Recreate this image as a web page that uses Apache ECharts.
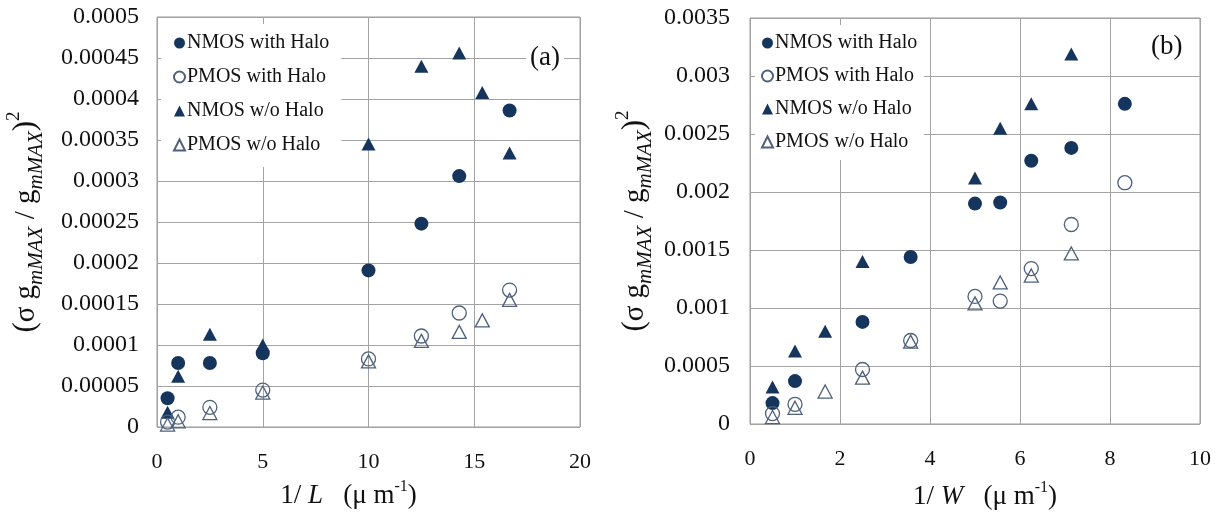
<!DOCTYPE html>
<html>
<head>
<meta charset="utf-8">
<script src="https://cdn.jsdelivr.net/npm/echarts@6/dist/echarts.min.js"></script>
<style>
  html, body { margin: 0; padding: 0; background: #fff; }
  #chart { width: 1222px; height: 517px; }
</style>
</head>
<body>
<div id="chart"></div>
<script>
// Panel (a): mismatch of g_mMAX versus 1/L
const xCircleA   = [0.5, 1, 2.5, 5, 10, 12.5, 14.29, 16.67];
const xTriA      = [0.5, 1, 2.5, 5, 10, 12.5, 14.29, 15.38, 16.67];
const nmosHaloA   = [0.000035, 0.000078, 0.000078, 0.00009, 0.000191, 0.000248, 0.000306, 0.000386];
const pmosHaloA   = [0.000006, 0.000012, 0.000024, 0.000045, 0.000083, 0.000111, 0.000139, 0.000167];
const nmosNoHaloA = [0.000018, 0.000062, 0.000113, 0.0001, 0.000345, 0.00044, 0.000456, 0.000408, 0.000334];
const pmosNoHaloA = [0.000003, 0.000007, 0.000017, 0.000042, 0.00008, 0.000105, 0.000116, 0.00013, 0.000155];

// Panel (b): mismatch of g_mMAX versus 1/W
const xCircleB    = [0.5, 1, 2.5, 3.57, 5, 5.56, 6.25, 7.14, 8.33];
const xNmosTriB   = [0.5, 1, 1.67, 2.5, 5, 5.56, 6.25, 7.14];
const xPmosTriB   = [0.5, 1, 1.67, 2.5, 3.57, 5, 5.56, 6.25, 7.14];
const nmosHaloB   = [0.00018, 0.00037, 0.00088, 0.00144, 0.0019, 0.00191, 0.00227, 0.00238, 0.00276];
const pmosHaloB   = [0.00009, 0.00017, 0.00047, 0.00072, 0.0011, 0.00106, 0.00134, 0.00172, 0.00208];
const nmosNoHaloB = [0.00032, 0.00063, 0.0008, 0.0014, 0.00212, 0.00255, 0.00276, 0.00319];
const pmosNoHaloB = [0.00006, 0.00014, 0.00028, 0.0004, 0.00071, 0.00104, 0.00122, 0.00128, 0.00147];

const seriesNames = ['NMOS with Halo', 'PMOS with Halo', 'NMOS w/o Halo', 'PMOS w/o Halo'];
const yTicksA = ['0', '0.00005', '0.0001', '0.00015', '0.0002', '0.00025', '0.0003', '0.00035', '0.0004', '0.00045', '0.0005'];
const yTicksB = ['0', '0.0005', '0.001', '0.0015', '0.002', '0.0025', '0.003', '0.0035'];
const xTicksA = ['0', '5', '10', '15', '20'];
const xTicksB = ['0', '2', '4', '6', '8', '10'];

const SERIF = "'Liberation Serif', 'Times New Roman', serif";
const NAVY = '#16355c';
const OPEN = '#4e617a';
const GRID = '#a3a3a3';
const INK = '#111';

const pairs = (xs, ys) => xs.map((x, i) => [x, ys[i]]);

const styles = [
  { symbol: 'circle',   symbolSize: 14,       itemStyle: { color: NAVY, opacity: 1 } },
  { symbol: 'circle',   symbolSize: 14,       itemStyle: { color: 'rgba(255,255,255,0)', borderColor: OPEN, borderWidth: 1.3, opacity: 1 } },
  { symbol: 'triangle', symbolSize: [14, 13], itemStyle: { color: NAVY, opacity: 1 } },
  { symbol: 'triangle', symbolSize: [14, 13], itemStyle: { color: 'rgba(255,255,255,0)', borderColor: OPEN, borderWidth: 1.3, opacity: 1 } }
];

function makeSeries(idx, gridIdx, data) {
  return Object.assign({
    name: seriesNames[idx],
    type: 'scatter',
    xAxisIndex: gridIdx,
    yAxisIndex: gridIdx,
    data: data,
    z: idx % 2 === 0 ? 3 : 4
  }, styles[idx]);
}

// (σ g_mMAX / g_mMAX)^2
const yName = '{p|(}{r|σ g}{s|mMAX}{r| / g}{s|mMAX}{p|)}{u|2}';
const yNameRich = {
  p: { fontFamily: SERIF, fontSize: 31, lineHeight: 42, color: INK },
  r: { fontFamily: SERIF, fontSize: 29, lineHeight: 42, color: INK },
  s: { fontFamily: SERIF, fontSize: 21, fontStyle: 'italic', lineHeight: 20, verticalAlign: 'bottom', color: INK },
  u: { fontFamily: SERIF, fontSize: 19, lineHeight: 19, verticalAlign: 'top', color: INK }
};
const xNameRich = {
  n: { fontFamily: SERIF, fontSize: 27, lineHeight: 34, color: INK },
  i: { fontFamily: SERIF, fontSize: 27, fontStyle: 'italic', lineHeight: 34, color: INK },
  u: { fontFamily: SERIF, fontSize: 16, lineHeight: 16, verticalAlign: 'top', color: INK }
};

function valueAxis(gridIdx, min, max, step, labels, size, margin, extra) {
  return Object.assign({
    type: 'value',
    gridIndex: gridIdx,
    min: min, max: max, interval: step,
    axisLine: { show: false },
    axisTick: { show: false },
    splitLine: { show: true, lineStyle: { color: GRID, width: 1 } },
    axisLabel: {
      fontFamily: SERIF, fontSize: size, color: INK, margin: margin,
      formatter: v => labels[Math.round((v - min) / step)]
    }
  }, extra);
}

function legendFor(left, top, gap, pad) {
  return {
    orient: 'vertical',
    left: left, top: top,
    itemWidth: 11, itemHeight: 11,
    itemGap: gap,
    padding: pad,
    backgroundColor: '#fff',
    data: seriesNames,
    textStyle: { fontFamily: SERIF, fontSize: 20, lineHeight: 20, color: INK, padding: [0, 0, 0, -3] }
  };
}

const chart = echarts.init(document.getElementById('chart'), null, { renderer: 'canvas' });
chart.setOption({
  animation: false,
  backgroundColor: '#fff',
  title: [
    { text: '(a)', left: 526, top: 44, padding: [0, 4], backgroundColor: '#fff',
      textStyle: { fontFamily: SERIF, fontSize: 27, fontWeight: 'normal', color: INK } },
    { text: '(b)', left: 1147, top: 33, padding: [0, 4], backgroundColor: '#fff',
      textStyle: { fontFamily: SERIF, fontSize: 27, fontWeight: 'normal', color: INK } }
  ],
  legend: [
    legendFor(161, 24, 14, [9, 12, 12, 12]),
    legendFor(755, 25, 13, [8, 7, 8, 6])
  ],
  grid: [
    { left: 157, top: 17, width: 423, height: 410, show: true, borderColor: '#999', borderWidth: 1 },
    { left: 750, top: 18, width: 450, height: 406, show: true, borderColor: '#999', borderWidth: 1 }
  ],
  xAxis: [
    valueAxis(0, 0, 20, 5, xTicksA, 22, 24, {
      name: '{n|1/ }{i|L}{n|   (μ m}{u|-1}{n|)}',
      nameLocation: 'middle', nameGap: 52,
      nameTextStyle: { rich: xNameRich, padding: [0, 40, 0, 0] }
    }),
    valueAxis(1, 0, 10, 2, xTicksB, 22, 24, {
      name: '{n|1/ }{i|W}{n|   (μ m}{u|-1}{n|)}',
      nameLocation: 'middle', nameGap: 56,
      nameTextStyle: { rich: xNameRich, padding: [0, 0, 0, 20] }
    })
  ],
  yAxis: [
    valueAxis(0, 0, 0.0005, 0.00005, yTicksA, 24, 18, {
      name: yName, nameLocation: 'middle', nameRotate: 90, nameGap: 110,
      nameTextStyle: { rich: yNameRich }
    }),
    valueAxis(1, 0, 0.0035, 0.0005, yTicksB, 24, 20, {
      name: yName, nameLocation: 'middle', nameRotate: 90, nameGap: 94,
      nameTextStyle: { rich: yNameRich }
    })
  ],
  series: [
    makeSeries(0, 0, pairs(xCircleA, nmosHaloA)),
    makeSeries(1, 0, pairs(xCircleA, pmosHaloA)),
    makeSeries(2, 0, pairs(xTriA, nmosNoHaloA)),
    makeSeries(3, 0, pairs(xTriA, pmosNoHaloA)),
    makeSeries(0, 1, pairs(xCircleB, nmosHaloB)),
    makeSeries(1, 1, pairs(xCircleB, pmosHaloB)),
    makeSeries(2, 1, pairs(xNmosTriB, nmosNoHaloB)),
    makeSeries(3, 1, pairs(xPmosTriB, pmosNoHaloB))
  ]
});
</script>
</body>
</html>
